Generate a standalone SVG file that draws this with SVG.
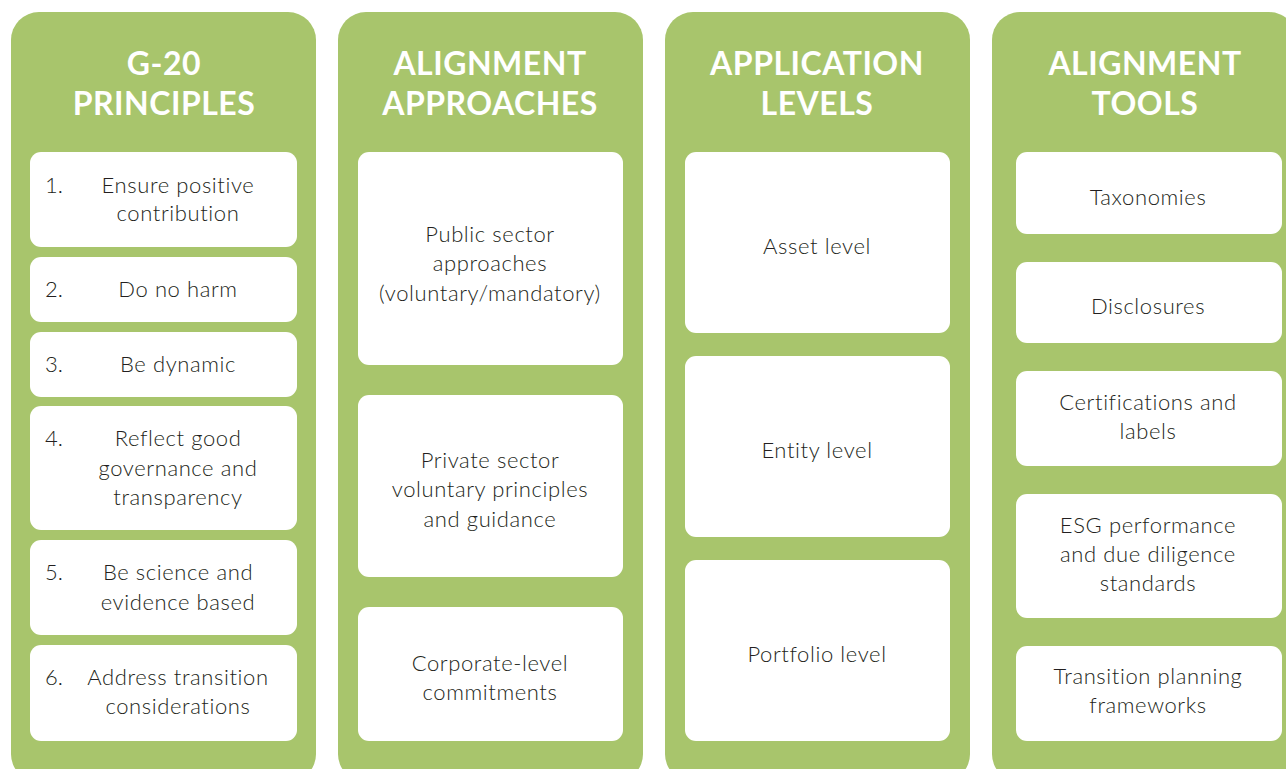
<svg xmlns="http://www.w3.org/2000/svg" width="1286" height="769" viewBox="0 0 1286 769">
<style>
.col{fill:#a8c56c}
.box{fill:#ffffff}
.hd{font-family:Lato,"Liberation Sans",sans-serif;font-weight:700;font-size:32px;letter-spacing:0.5px;fill:#ffffff;text-anchor:middle}
.tx{font-family:Lato,"Liberation Sans",sans-serif;font-weight:300;font-size:22px;letter-spacing:0.6px;fill:#231f20;text-anchor:middle}
.num{font-family:Lato,"Liberation Sans",sans-serif;font-weight:300;font-size:22px;fill:#231f20}
</style>
<rect width="1286" height="769" fill="#ffffff"/>
<g id="col-principles">
<rect class="col" x="11" y="12" width="305" height="770" rx="28"/>
<text class="hd" x="164" y="75">G-20</text>
<text class="hd" x="164" y="115">PRINCIPLES</text>
</g>
<g id="p1"><rect class="box" x="30" y="152" width="267" height="95" rx="11"/>
<text class="num" x="45" y="193">1.</text><text class="tx" x="178" y="193">Ensure positive</text><text class="tx" x="178" y="221">contribution</text></g>
<g id="p2"><rect class="box" x="30" y="257" width="267" height="65" rx="11"/>
<text class="num" x="45" y="297">2.</text><text class="tx" x="178" y="297">Do no harm</text></g>
<g id="p3"><rect class="box" x="30" y="332" width="267" height="65" rx="11"/>
<text class="num" x="45" y="372">3.</text><text class="tx" x="178" y="372">Be dynamic</text></g>
<g id="p4"><rect class="box" x="30" y="406" width="267" height="124" rx="11"/>
<text class="num" x="45" y="446">4.</text><text class="tx" x="178" y="446">Reflect good</text><text class="tx" x="178" y="476">governance and</text><text class="tx" x="178" y="505">transparency</text></g>
<g id="p5"><rect class="box" x="30" y="540" width="267" height="95" rx="11"/>
<text class="num" x="45" y="580">5.</text><text class="tx" x="178" y="580">Be science and</text><text class="tx" x="178" y="610">evidence based</text></g>
<g id="p6"><rect class="box" x="30" y="645" width="267" height="96" rx="11"/>
<text class="num" x="45" y="685">6.</text><text class="tx" x="178" y="685">Address transition</text><text class="tx" x="178" y="714">considerations</text></g>

<g id="col-approaches">
<rect class="col" x="338" y="12" width="305" height="770" rx="28"/>
<text class="hd" x="490" y="75">ALIGNMENT</text>
<text class="hd" x="490" y="115">APPROACHES</text>
</g>
<g id="a1"><rect class="box" x="358" y="152" width="265" height="213" rx="11"/>
<text class="tx" x="490" y="242">Public sector</text><text class="tx" x="490" y="271">approaches</text><text class="tx" x="490" y="301">(voluntary/mandatory)</text></g>
<g id="a2"><rect class="box" x="358" y="395" width="265" height="182" rx="11"/>
<text class="tx" x="490" y="468">Private sector</text><text class="tx" x="490" y="497">voluntary principles</text><text class="tx" x="490" y="527">and guidance</text></g>
<g id="a3"><rect class="box" x="358" y="607" width="265" height="134" rx="11"/>
<text class="tx" x="490" y="671">Corporate-level</text><text class="tx" x="490" y="700">commitments</text></g>

<g id="col-levels">
<rect class="col" x="665" y="12" width="305" height="770" rx="28"/>
<text class="hd" x="817" y="75">APPLICATION</text>
<text class="hd" x="817" y="115">LEVELS</text>
</g>
<g id="l1"><rect class="box" x="685" y="152" width="265" height="181" rx="11"/>
<text class="tx" x="817" y="254">Asset level</text></g>
<g id="l2"><rect class="box" x="685" y="356" width="265" height="181" rx="11"/>
<text class="tx" x="817" y="458">Entity level</text></g>
<g id="l3"><rect class="box" x="685" y="560" width="265" height="181" rx="11"/>
<text class="tx" x="817" y="662">Portfolio level</text></g>

<g id="col-tools">
<rect class="col" x="992" y="12" width="305" height="770" rx="28"/>
<text class="hd" x="1145" y="75">ALIGNMENT</text>
<text class="hd" x="1145" y="115">TOOLS</text>
</g>
<g id="t1"><rect class="box" x="1016" y="152" width="266" height="82" rx="11"/>
<text class="tx" x="1148" y="205">Taxonomies</text></g>
<g id="t2"><rect class="box" x="1016" y="262" width="266" height="81" rx="11"/>
<text class="tx" x="1148" y="314">Disclosures</text></g>
<g id="t3"><rect class="box" x="1016" y="371" width="266" height="95" rx="11"/>
<text class="tx" x="1148" y="410">Certifications and</text><text class="tx" x="1148" y="439">labels</text></g>
<g id="t4"><rect class="box" x="1016" y="494" width="266" height="124" rx="11"/>
<text class="tx" x="1148" y="533">ESG performance</text><text class="tx" x="1148" y="562">and due diligence</text><text class="tx" x="1148" y="591">standards</text></g>
<g id="t5"><rect class="box" x="1016" y="646" width="266" height="95" rx="11"/>
<text class="tx" x="1148" y="684">Transition planning</text><text class="tx" x="1148" y="713">frameworks</text></g>
<g id="connectors"></g>
</svg>
